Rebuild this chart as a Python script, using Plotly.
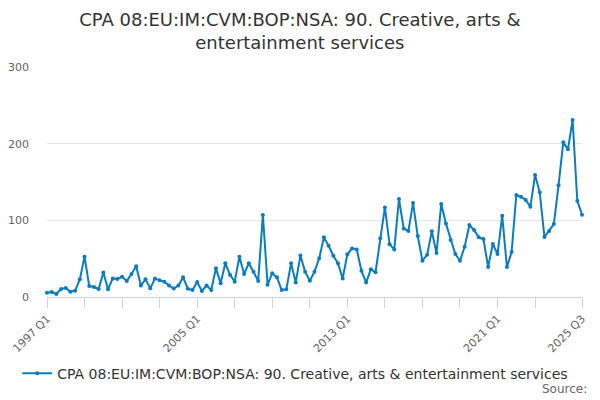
import plotly.graph_objects as go

years = list(range(1997, 2026))
quarters = [f"{y} Q{q}" for y in years for q in range(1, 5)][:115]

values = [
    5.6, 6.5, 3.9, 10.4, 11.7, 7.0, 8.3, 23.0, 52.6, 14.3,
    13.0, 10.4, 32.0, 10.0, 24.0, 23.5, 26.5, 21.0, 30.0, 40.0,
    15.0, 23.0, 11.3, 24.0, 21.7, 20.0, 15.0, 11.0, 15.0, 25.6,
    10.9, 9.1, 19.6, 7.8, 15.0, 9.1, 37.4, 17.8, 43.9, 29.0,
    20.0, 52.6, 30.0, 44.0, 33.0, 20.9, 107.0, 16.0, 30.9, 25.6,
    9.1, 10.0, 43.9, 19.0, 54.0, 33.0, 21.3, 33.0, 50.4, 77.8,
    66.9, 53.9, 44.0, 24.0, 55.6, 63.4, 62.1, 34.4, 18.8, 36.1,
    32.2, 76.5, 116.9, 68.7, 62.1, 127.8, 89.5, 86.0, 122.5, 79.5,
    47.3, 55.2, 85.6, 57.4, 121.3, 96.0, 74.3, 56.0, 47.3, 65.6,
    93.9, 87.4, 77.8, 75.6, 39.1, 69.1, 56.0, 106.0, 39.1, 58.7,
    133.0, 130.8, 126.5, 117.8, 159.0, 136.5, 78.2, 86.0, 95.2, 145.6,
    201.7, 192.6, 230.8, 125.6, 107.3,
]

tick_positions = list(range(0, 105, 8)) + [114]
tick_labels = {0: "1997 Q1", 32: "2005 Q1", 64: "2013 Q1", 96: "2021 Q1", 114: "2025 Q3"}
y_ticks = [0, 100, 200, 300]

series_name = "CPA 08:EU:IM:CVM:BOP:NSA: 90. Creative, arts & entertainment services"
color = "#0a7cc1"

x_idx = list(range(len(values)))

fig = go.Figure()
fig.add_trace(go.Scatter(
    x=x_idx, y=values, mode="lines+markers", name=series_name,
    line=dict(color=color, width=2),
    marker=dict(color=color, size=4),
    cliponaxis=False,
    text=quarters,
))

fig.update_layout(
    width=592, height=392,
    margin=dict(l=39, r=18, t=59, b=103, autoexpand=False),
    paper_bgcolor="white", plot_bgcolor="white",
    font=dict(family="DejaVu Sans", color="#666666", size=11),
    title=dict(
        text="CPA 08:EU:IM:CVM:BOP:NSA: 90. Creative, arts &amp;<br>entertainment services",
        x=0.493, xref="container", xanchor="center", y=0.954, yref="container", yanchor="top",
        font=dict(family="DejaVu Sans", size=18, color="#333333"),
    ),
    showlegend=True,
    legend=dict(
        orientation="h", x=0.464, xanchor="center", y=-0.333, yanchor="middle",
        xref="paper", yref="paper",
        font=dict(family="DejaVu Sans", size=14, color="#333333"),
        itemwidth=30,
    ),
    xaxis=dict(
        range=[0, 114],
        tickmode="array",
        tickvals=tick_positions,
        ticktext=[tick_labels.get(p, "") for p in tick_positions],
        tickangle=-45,
        ticks="outside", ticklen=10, tickcolor="#ccd6eb", tickwidth=1,
        showline=True, linecolor="#ccd6eb", linewidth=1,
        showgrid=False, zeroline=False, automargin=False,
        tickfont=dict(size=11, color="#666666"),
    ),
    yaxis=dict(
        range=[0, 300],
        tickmode="array", tickvals=y_ticks,
        showgrid=True, gridcolor="#e6e6e6", gridwidth=1,
        zeroline=False, showline=False, automargin=False,
        ticklabelstandoff=17,
        tickfont=dict(size=11, color="#666666"),
    ),
    annotations=[dict(
        text="Source:", xref="paper", yref="paper", x=1.013, y=-0.402,
        xanchor="right", yanchor="middle", showarrow=False,
        font=dict(family="DejaVu Sans", size=12, color="#666666"),
    )],
)

fig.write_html("out.html")
